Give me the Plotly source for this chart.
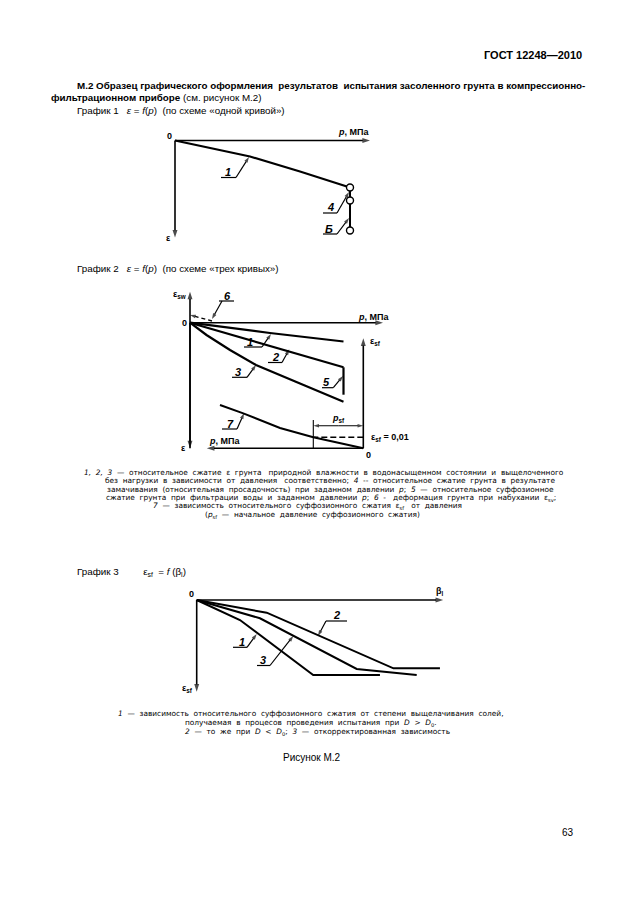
import plotly.graph_objects as go

W, H = 630, 913          # reference page size (px)
OFF = 8                  # browser body margin
FW, FH = W - 2 * OFF, H - 2 * OFF

# ---------------- data (schematic values) ----------------
# График 1: ε = f(p), "single curve" scheme
g1_p = [0, 0.074, 0.15, 0.25, 0.35]
g1_eps = [0, 0.008, 0.016, 0.031, 0.047]
g1_wet_p = [0.35, 0.35, 0.35]
g1_wet_eps = [0.047, 0.060, 0.090]

# График 2: ε = f(p), "three curves" scheme
g2_c1_p = [0, 0.16, 0.307]
g2_c1_eps = [0, 0.0103, 0.0188]
g2_c2_p = [0, 0.193, 0.307]
g2_c2_eps = [0, 0.028, 0.0446]
g2_c5_p = [0.307, 0.307]
g2_c5_eps = [0.0446, 0.072]
g2_c3_p = [0, 0.033, 0.08, 0.132, 0.22, 0.307]
g2_c3_eps = [0, 0.0123, 0.0273, 0.0423, 0.0608, 0.079]
g2_c6_p = [0.044, 0.0]
g2_c6_eps = [-0.0017, -0.0077]

# ε_sf = f(p) (curve 7)
g7_p = [0, 0.1, 0.1666, 0.24, 0.2866]
g7_esf = [0, 0.01, 0.0185, 0.0318, 0.0394]
p_sf = 0.1
esf_limit = 0.01

# График 3: ε_sf = f(β_l)
g3_c1_b = [0, 0.173, 0.466, 0.733]
g3_c1_e = [0, 0.020, 0.075, 0.075]
g3_c2_b = [0, 0.28, 0.787, 0.973]
g3_c2_e = [0, 0.0127, 0.0683, 0.0683]
g3_c3_b = [0, 0.253, 0.64, 0.88]
g3_c3_e = [0, 0.0183, 0.069, 0.075]

# ---------------- layout helpers ----------------
def axes_for(ox, oy, sx, sy, box, flipx=False, up=False):
    x0, y0, x1, y1 = box
    if flipx:
        xr = [(ox - x0) / sx, (ox - x1) / sx]
    else:
        xr = [(x0 - ox) / sx, (x1 - ox) / sx]
    if up:
        yr = [(oy - y1) / sy, (oy - y0) / sy]
    else:
        yr = [(y1 - oy) / sy, (y0 - oy) / sy]
    xa = dict(domain=[(x0 - OFF) / FW, (x1 - OFF) / FW], range=xr, visible=False, fixedrange=True)
    ya = dict(domain=[1 - (y1 - OFF) / FH, 1 - (y0 - OFF) / FH], range=yr, visible=False,
              fixedrange=True)
    return xa, ya


xa1, ya1 = axes_for(175, 140.5, 500, 1000, (150, 120, 400, 250))
xa2, ya2 = axes_for(190, 322.7, 500, 1000, (150, 280, 400, 460))
xa4, ya4 = axes_for(363.3, 448.3, 500, 1100, (180, 330, 420, 462), flipx=True, up=True)
xa3, ya3 = axes_for(196.7, 600, 250, 1000, (180, 580, 460, 705))
# page axis (reference pixels) for annotation placement
xa5 = dict(domain=[0, 1], range=[OFF, W - OFF], visible=False, fixedrange=True)
ya5 = dict(domain=[0, 1], range=[H - OFF, OFF], visible=False, fixedrange=True)

FONT = "Liberation Sans, Arial, sans-serif"
CAPF = "DejaVu Sans, sans-serif"

fig = go.Figure()


def line(x, y, xa, ya, w=2.0, dash="solid", markers=False):
    fig.add_trace(go.Scatter(
        x=x, y=y, xaxis=xa, yaxis=ya,
        mode="lines+markers" if markers else "lines",
        line=dict(color="black", width=w, dash=dash),
        marker=dict(symbol="circle", size=7, color="white",
                    line=dict(color="black", width=1.4)),
        hoverinfo="skip", showlegend=False))


def arr(x, y, xa, ya, w=1.6, head=8, dash="solid"):
    fig.add_trace(go.Scatter(
        x=x, y=y, xaxis=xa, yaxis=ya, mode="lines+markers",
        line=dict(color="black", width=w, dash=dash),
        marker=dict(symbol="arrow", size=[0] * (len(x) - 1) + [head], angleref="previous",
                    color="black", line=dict(width=0)),
        hoverinfo="skip", showlegend=False))


# curves
line(g1_p, g1_eps, "x", "y", 2.2)
line(g1_wet_p, g1_wet_eps, "x", "y", 2.0, markers=True)

line(g2_c1_p, g2_c1_eps, "x2", "y2", 2.2)
line(g2_c2_p, g2_c2_eps, "x2", "y2", 2.2)
line(g2_c5_p, g2_c5_eps, "x2", "y2", 2.2)
line(g2_c3_p, g2_c3_eps, "x2", "y2", 2.2)
arr(g2_c6_p, g2_c6_eps, "x2", "y2", 1.4, head=6, dash="4px,3px")

line(g7_p, g7_esf, "x4", "y4", 2.0)
line([0, p_sf], [esf_limit, esf_limit], "x4", "y4", 1.6, dash="6px,3px")
line([p_sf, p_sf], [0, 0.0257], "x4", "y4", 1.1)

line(g3_c1_b, g3_c1_e, "x3", "y3", 2.0)
line(g3_c2_b, g3_c2_e, "x3", "y3", 2.0)
line(g3_c3_b, g3_c3_e, "x3", "y3", 2.0)

# axes with arrow heads
arr([0, 0.39], [0, 0], "x", "y")
arr([0, 0], [0, 0.097], "x", "y")
arr([0, 0.386], [0, 0], "x2", "y2")
arr([0, 0], [0.1256, -0.031], "x2", "y2")
arr([0, 0], [0, 0.1256], "x2", "y2")
arr([0, 0], [0, 0.1], "x4", "y4")
arr([0, 0.313], [0, 0], "x4", "y4")
arr([0, 0.986], [0, 0], "x3", "y3")
arr([0, 0], [0, 0.0917], "x3", "y3")
# p_sf dimension line (arrows at both ends)
arr([p_sf / 2, 0], [0.0205, 0.0205], "x4", "y4", w=1.0, head=6)
arr([p_sf / 2, p_sf], [0.0205, 0.0205], "x4", "y4", w=1.0, head=6)

shapes = []
ann = []


def txt(px, py, s, size=10, xanchor="center", bold=False, family=FONT, italic=False):
    if italic:
        s = "<i>" + s + "</i>"
    if bold:
        s = "<b>" + s + "</b>"
    ann.append(dict(x=px, y=py, xref="x5", yref="y5", text=s, showarrow=False,
                    xanchor=xanchor, yanchor="middle", borderpad=0,
                    font=dict(family=family, size=size, color="black")))


def label(px, py, s, ul, leader):
    txt(px, py, s, size=11, bold=True, italic=True)
    (ux0, ux1, uy) = ul
    shapes.append(dict(type="line", xref="x5", yref="y5", x0=ux0, y0=uy, x1=ux1, y1=uy,
                       line=dict(color="black", width=1.2)))
    (sx_, sy_, tx, ty) = leader
    arr([sx_, tx], [sy_, ty], "x5", "y5", w=1.2, head=6)


NB = "\u00a0"


def wide(s):
    return s.replace(" ", " " + NB)


# ---- page text ----
txt(583, 55, "ГОСТ 12248—2010", size=11, xanchor="right", bold=True)
txt(76, 85, "М.2 Образец графического оформления" + NB * 2 + "результатов" + NB * 2 +
    "испытания засоленного грунта в компрессионно-", size=9.8, xanchor="left", bold=True)
txt(50, 97.5, "<b>фильтрационном приборе</b> (см. рисунок М.2)", size=9.8, xanchor="left")
txt(76, 110, "График 1" + NB * 3 + "<i>ε</i> = <i>f</i>(<i>p</i>)" + NB * 2 +
    "(по схеме «одной кривой»)", size=9.8, xanchor="left")

# Graph 1 labels
txt(169, 136, "0", size=9, bold=True)
txt(370, 132, "<i>p</i>, МПа", size=9, bold=True, xanchor="right")
txt(168, 238, "ε", size=9, bold=True)
label(228, 171.5, "1", (221, 236, 177.5), (236, 177.5, 249, 157))
label(330, 207, "4", (323, 337, 213), (337, 213, 349, 192))
label(329, 228.5, "Б", (323, 337, 234), (337, 234, 349, 218))

# Graph 2
txt(76, 268.5, "График 2" + NB * 3 + "<i>ε</i> = <i>f</i>(<i>p</i>)" + NB * 2 +
    "(по схеме «трех кривых»)", size=9.8, xanchor="left")
txt(179, 294, "ε<sub>sw</sub>", size=9, bold=True)
txt(184, 322.7, "0", size=9, bold=True)
txt(390, 317, "<i>p</i>, МПа", size=9, bold=True, xanchor="right")
label(227, 296, "6", (219, 234, 301), (222, 301, 212, 319))
label(250, 341.5, "1", (244, 262, 347), (262, 347, 271, 334))
label(275, 357, "2", (268, 282, 362.5), (282, 362.5, 289.3, 349.3))
label(238.3, 371.5, "3", (232, 247, 377.3), (247, 377.3, 256, 365))
label(326.7, 381.5, "5", (322, 333.3, 387.7), (333.3, 387.7, 343, 376))
txt(375, 341, "ε<sub>sf</sub>", size=9, bold=True)
label(230, 424, "7", (222, 237, 429), (237, 429, 244, 413.3))
txt(338.3, 418.3, "<i>p</i><sub>sf</sub>", size=9, bold=True)
txt(370, 437.7, "ε<sub>sf</sub> = 0,01", size=9, bold=True, xanchor="left")
txt(208, 441, "<i>p</i>, МПа", size=9, bold=True, xanchor="left")
txt(368, 455, "0", size=9, bold=True)
txt(183, 448, "ε", size=9, bold=True)

cap2 = [
    (323.5, 472, "<i>1, 2, 3</i> — относительное сжатие ε грунта" + NB + " природной влажности в водонасыщенном состоянии и выщелоченного"),
    (330, 480.5, "без нагрузки в зависимости от давления" + NB + " соответственно; <i>4</i> -- относительное сжатие грунта в результате"),
    (330, 489, "замачивания (относительная просадочность) при заданном давлении <i>p</i>; <i>5</i> — относительное суффозионное"),
    (331, 497.5, "сжатие грунта при фильтрации воды и заданном давлении <i>p</i>; <i>6</i> -" + NB + " деформация грунта при набухании ε<sub>sv</sub>;"),
    (307, 506, "<i>7</i> — зависимость относительного суффозионного сжатия ε<sub>sf</sub>" + NB + " от давления"),
    (312, 514.5, "(<i>p</i><sub>sf</sub> — начальное давление суффозионного сжатия)"),
]
for cx, cy, s in cap2:
    txt(cx, cy, wide(s).replace("<i> ", "<i>"), size=7.4, family=CAPF)

# Graph 3
txt(76, 571.5, "График 3" + NB * 9 + "ε<sub>sf</sub>" + NB + " = <i>f</i> (β<sub>l</sub>)", size=9.8, xanchor="left")
txt(191.7, 594, "0", size=9, bold=True)
txt(440, 591.5, "β<sub>l</sub>", size=9, bold=True)
txt(187, 688, "ε<sub>sf</sub>", size=9, bold=True)
label(336.7, 615, "2", (326, 347, 621), (326, 621, 318, 636))
label(241.7, 642, "1", (233, 247, 647.3), (247, 647.3, 256.7, 634))
label(263.3, 660, "3", (257, 270, 665.5), (270, 665.5, 293.3, 636))

cap3 = [
    (311, 713, "<i>1</i> — зависимость относительного суффозионного сжатия от степени выщелачивания солей,"),
    (310.5, 722.5, "получаемая в процесов проведения испытания при <i>D</i> > <i>D</i><sub>0</sub>."),
    (317.5, 732, "<i>2</i> — то же при <i>D</i> < <i>D</i><sub>0</sub>; <i>3</i> — откорректированная зависимость"),
]
for cx, cy, s in cap3:
    txt(cx, cy, wide(s), size=7.4, family=CAPF)

txt(312, 757, "Рисунок М.2", size=10)
txt(568, 832, "63", size=10)

fig.update_layout(
    width=FW, height=FH, autosize=False,
    margin=dict(l=0, r=0, t=0, b=0),
    paper_bgcolor="white", plot_bgcolor="rgba(0,0,0,0)",
    showlegend=False,
    xaxis=xa1, yaxis=ya1,
    xaxis2=xa2, yaxis2=ya2,
    xaxis3=xa3, yaxis3=ya3,
    xaxis4=xa4, yaxis4=ya4,
    xaxis5=xa5, yaxis5=ya5,
    annotations=ann, shapes=shapes,
    font=dict(family=FONT, color="black"),
)

fig.write_html("out.html")
